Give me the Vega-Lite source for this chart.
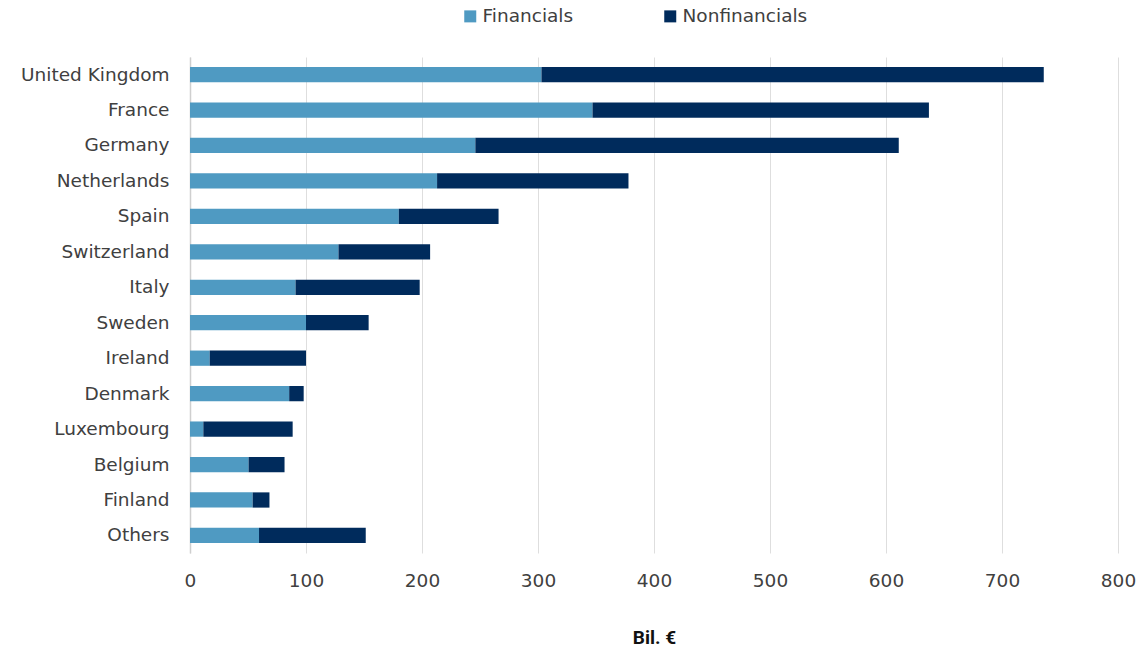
{
  "$schema": "https://vega.github.io/schema/vega-lite/v6.json",
  "width": 928,
  "height": 496,
  "autosize": {"type": "none"},
  "padding": {"left": 190, "top": 57, "right": 19, "bottom": 95},
  "background": "white",
  "config": {
    "view": {"stroke": null},
    "font": "DejaVu Sans"
  },
  "data": {
    "values": [
      {"country": "United Kingdom", "type": "Financials", "value": 303},
      {"country": "United Kingdom", "type": "Nonfinancials", "value": 433},
      {"country": "France", "type": "Financials", "value": 347},
      {"country": "France", "type": "Nonfinancials", "value": 290},
      {"country": "Germany", "type": "Financials", "value": 246},
      {"country": "Germany", "type": "Nonfinancials", "value": 365},
      {"country": "Netherlands", "type": "Financials", "value": 213},
      {"country": "Netherlands", "type": "Nonfinancials", "value": 165},
      {"country": "Spain", "type": "Financials", "value": 180},
      {"country": "Spain", "type": "Nonfinancials", "value": 86},
      {"country": "Switzerland", "type": "Financials", "value": 128},
      {"country": "Switzerland", "type": "Nonfinancials", "value": 79},
      {"country": "Italy", "type": "Financials", "value": 91},
      {"country": "Italy", "type": "Nonfinancials", "value": 107},
      {"country": "Sweden", "type": "Financials", "value": 100},
      {"country": "Sweden", "type": "Nonfinancials", "value": 54},
      {"country": "Ireland", "type": "Financials", "value": 17},
      {"country": "Ireland", "type": "Nonfinancials", "value": 83},
      {"country": "Denmark", "type": "Financials", "value": 85.5},
      {"country": "Denmark", "type": "Nonfinancials", "value": 12.5},
      {"country": "Luxembourg", "type": "Financials", "value": 11.5},
      {"country": "Luxembourg", "type": "Nonfinancials", "value": 77},
      {"country": "Belgium", "type": "Financials", "value": 50.5},
      {"country": "Belgium", "type": "Nonfinancials", "value": 31},
      {"country": "Finland", "type": "Financials", "value": 54},
      {"country": "Finland", "type": "Nonfinancials", "value": 14.5},
      {"country": "Others", "type": "Financials", "value": 59.5},
      {"country": "Others", "type": "Nonfinancials", "value": 92}
    ]
  },
  "mark": {"type": "bar"},
  "encoding": {
    "y": {
      "field": "country",
      "type": "nominal",
      "sort": null,
      "scale": {"paddingInner": 0.57, "paddingOuter": 0.28},
      "axis": {
        "title": null,
        "ticks": false,
        "labelFontSize": 18.5,
        "labelFontWeight": "normal",
        "labelColor": "#404040",
        "labelPadding": 21,
        "domain": true,
        "domainColor": "#cfcfcf",
        "domainWidth": 1.5,
        "grid": false
      }
    },
    "x": {
      "field": "value",
      "type": "quantitative",
      "stack": "zero",
      "scale": {"domain": [0, 800], "nice": false},
      "axis": {
        "values": [0, 100, 200, 300, 400, 500, 600, 700, 800],
        "title": "Bil. €",
        "titleFont": "Roboto",
        "titleFontSize": 19,
        "titleFontWeight": "bold",
        "titleColor": "#111111",
        "titlePadding": 39,
        "ticks": true,
        "tickSize": 0,
        "domain": false,
        "grid": true,
        "gridColor": "#dedede",
        "gridWidth": 1,
        "labelFlush": false,
        "labelFontSize": 18.5,
        "labelFontWeight": "normal",
        "labelColor": "#404040",
        "labelPadding": 18
      }
    },
    "color": {
      "field": "type",
      "type": "nominal",
      "scale": {"domain": ["Financials", "Nonfinancials"], "range": ["#4f9ac2", "#002b5c"]},
      "legend": {
        "title": null,
        "orient": "none",
        "direction": "horizontal",
        "legendX": 271,
        "legendY": -50,
        "symbolType": "square",
        "symbolSize": 144,
        "symbolStrokeWidth": 0,
        "labelFontSize": 18.5,
        "labelFontWeight": "normal",
        "labelColor": "#404040",
        "labelOffset": 3,
        "columnPadding": 87
      }
    },
    "order": {"field": "type", "sort": "ascending"}
  }
}
